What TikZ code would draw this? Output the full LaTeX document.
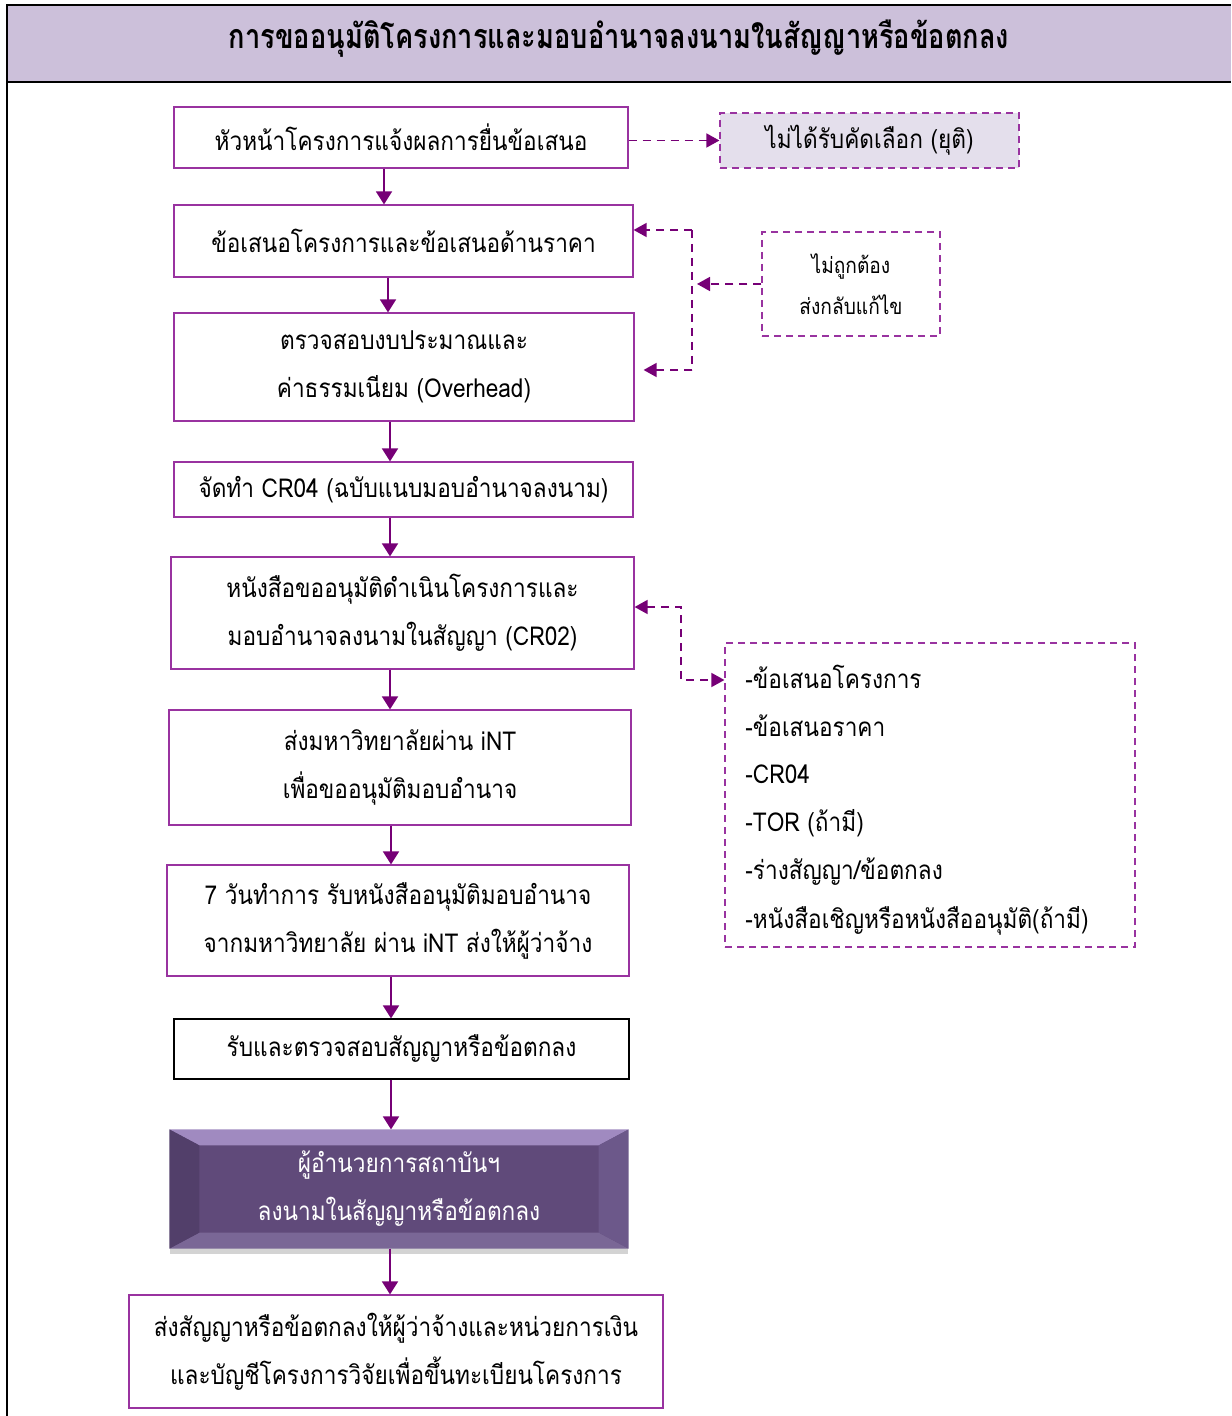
\documentclass[tikz,border=0pt]{standalone}
\usepackage{fontspec}
\setmainfont[Script=Thai,FakeStretch=0.87]{Loma}
\newfontfamily\titlefont[Script=Thai,FakeStretch=0.8]{Loma}
\usetikzlibrary{arrows.meta,calc,shadows}

\definecolor{headfill}{RGB}{204,192,218}
\definecolor{rejfill}{RGB}{228,223,236}
\definecolor{boxline}{RGB}{153,51,160}
\definecolor{arrowcol}{RGB}{118,0,118}
\definecolor{bevmid}{RGB}{96,74,122}
\definecolor{bevtop}{RGB}{160,138,192}
\definecolor{bevleft}{RGB}{82,63,106}
\definecolor{bevright}{RGB}{108,88,138}
\definecolor{bevbot}{RGB}{122,103,150}

\newcommand\bodyfont{\fontsize{13}{24}\selectfont}
\newcommand\smallfont{\fontsize{11}{20.5}\selectfont}

\tikzset{
    stepbox/.style={draw=boxline, line width=0.6pt, align=center, font=\bodyfont, inner sep=0pt},
    sidebox/.style={draw=boxline, line width=0.6pt, dash pattern=on 3.5pt off 2.5pt, align=center, inner sep=0pt},
    flow/.style={draw=arrowcol, line width=0.9pt, -{Triangle[length=6.5pt,width=8pt]}},
    dflow/.style={draw=arrowcol, line width=0.8pt, dash pattern=on 4pt off 3pt, -{Triangle[length=6.5pt,width=7pt]}},
    dline/.style={draw=arrowcol, line width=0.8pt, dash pattern=on 4pt off 3pt}
}

\begin{document}
\begin{tikzpicture}[x=0.5pt,y=-0.5pt]
    \useasboundingbox (0,0) rectangle (1231,1416);
    % title bar and left frame
    \fill[headfill] (7,5) rectangle (1231,82);
    \draw[line width=0.8pt] (1231,5) -- (7,5) -- (7,82);
    \draw[line width=1.4pt] (7,82) -- (1231,82);
    \draw[line width=1pt] (7,82) -- (7,1416);
    \node (title) at (619,39) {\titlefont\bfseries\fontsize{17}{20}\selectfont การขออนุมัติโครงการและมอบอำนาจลงนามในสัญญาหรือข้อตกลง};

    % main steps
    \node[stepbox, minimum width=227pt, minimum height=30.5pt] (b1) at (401,137.5) {หัวหน้าโครงการแจ้งผลการยื่นข้อเสนอ};
    \node[stepbox, minimum width=229.5pt, minimum height=36pt] (b2) at (403.5,241) {ข้อเสนอโครงการและข้อเสนอด้านราคา};
    \node[stepbox, minimum width=230pt, minimum height=54pt] (b3) at (404,367) {ตรวจสอบงบประมาณและ\\ค่าธรรมเนียม (Overhead)};
    \node[stepbox, minimum width=229.5pt, minimum height=27.5pt] (b4) at (403.5,489.5) {จัดทำ CR04 (ฉบับแนบมอบอำนาจลงนาม)};
    \node[stepbox, minimum width=231.5pt, minimum height=56pt] (b5) at (402.5,613) {หนังสือขออนุมัติดำเนินโครงการและ\\มอบอำนาจลงนามในสัญญา (CR02)};
    \node[stepbox, minimum width=231pt, minimum height=57.5pt] (b6) at (400,767.5) {ส่งมหาวิทยาลัยผ่าน iNT\\เพื่อขออนุมัติมอบอำนาจ};
    \node[stepbox, minimum width=231pt, minimum height=55.5pt] (b7) at (398,920.5) {7 วันทำการ รับหนังสืออนุมัติมอบอำนาจ\\จากมหาวิทยาลัย ผ่าน iNT ส่งให้ผู้ว่าจ้าง};
    \node[stepbox, draw=black, minimum width=227.5pt, minimum height=30pt] (b8) at (401.5,1049) {รับและตรวจสอบสัญญาหรือข้อตกลง};
    \node[stepbox, draw=none, fill=bevmid, text=white, minimum width=229pt, minimum height=59pt,
        drop shadow={opacity=0.35, shadow xshift=0pt, shadow yshift=-3pt}] (b9) at (399,1189) {};
    \fill[bevtop] (b9.north west) -- (b9.north east) -- ([xshift=-15pt,yshift=-8pt]b9.north east) -- ([xshift=15pt,yshift=-8pt]b9.north west) -- cycle;
    \fill[bevbot] (b9.south west) -- (b9.south east) -- ([xshift=-15pt,yshift=8pt]b9.south east) -- ([xshift=15pt,yshift=8pt]b9.south west) -- cycle;
    \fill[bevleft] (b9.north west) -- ([xshift=15pt,yshift=-8pt]b9.north west) -- ([xshift=15pt,yshift=8pt]b9.south west) -- (b9.south west) -- cycle;
    \fill[bevright] (b9.north east) -- ([xshift=-15pt,yshift=-8pt]b9.north east) -- ([xshift=-15pt,yshift=8pt]b9.south east) -- (b9.south east) -- cycle;
    \node[text=white, font=\bodyfont, align=center] at (b9) {ผู้อำนวยการสถาบันฯ\\ลงนามในสัญญาหรือข้อตกลง};
    \node[stepbox, minimum width=267pt, minimum height=56.5pt] (b10) at (396,1351.5) {ส่งสัญญาหรือข้อตกลงให้ผู้ว่าจ้างและหน่วยการเงิน\\และบัญชีโครงการวิจัยเพื่อขึ้นทะเบียนโครงการ};

    \foreach \a/\b/\x in {b1/b2/384, b2/b3/388, b3/b4/390, b4/b5/390, b5/b6/390, b6/b7/391, b7/b8/391, b8/b9/391, b9/b10/390}
        \draw[flow] (\a.south -| \x,0) -- (\b.north -| \x,0);

    % side boxes
    \node[sidebox, fill=rejfill, font=\bodyfont, minimum width=149.5pt, minimum height=27.5pt] (reject) at (869.5,140.5) {ไม่ได้รับคัดเลือก (ยุติ)};
    \draw[dflow] (b1.east |- reject.west) -- (reject.west);

    \node[sidebox, font=\smallfont, minimum width=89pt, minimum height=52pt] (fix) at (851,284) {ไม่ถูกต้อง\\ส่งกลับแก้ไข};
    \coordinate (ftop) at (692,230);
    \coordinate (fbot) at (692,370);
    \draw[dline] (ftop) -- (fbot);
    \draw[dflow] (fix.west) -- ([xshift=2.5pt]fix.west -| ftop);
    \draw[dflow] (ftop) -- (ftop -| b2.east);
    \draw[dflow] (fbot) -- ([xshift=4.5pt]fbot -| b3.east);

    \node[sidebox, minimum width=205pt, minimum height=152pt] (docs) at (930,795) {};
    \foreach \t [count=\i from 0] in {-ข้อเสนอโครงการ, -ข้อเสนอราคา, -CR04, -TOR (ถ้ามี), -ร่างสัญญา/ข้อตกลง, -หนังสือเชิญหรือหนังสืออนุมัติ(ถ้ามี)}
        \node[anchor=west, font=\bodyfont, inner sep=0pt] (doc\i) at (745,677+\i*48.7) {\t};
    \coordinate (dk) at (681,607);
    \draw[dflow, {Triangle[length=6.5pt,width=7pt]}-{Triangle[length=6.5pt,width=7pt]}] (b5.east |- dk) -- (dk) |- (docs.west |- 0,680);
\end{tikzpicture}
\end{document}
